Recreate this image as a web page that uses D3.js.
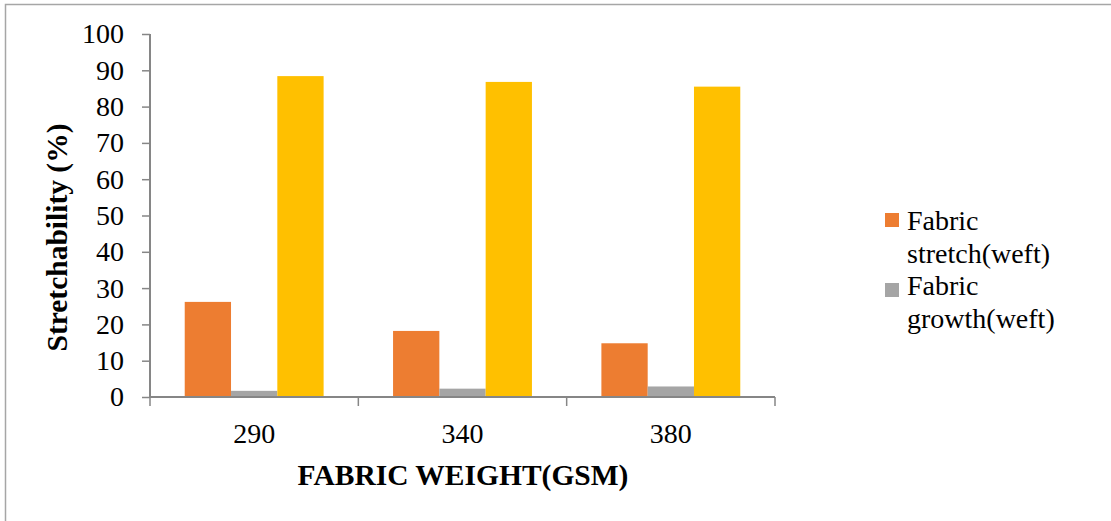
<!DOCTYPE html>
<html>
<head>
<meta charset="utf-8">
<script src="https://cdn.jsdelivr.net/npm/d3@7"></script>
<style>
  body { margin: 0; background: #fff; }
  svg text { font-family: "Liberation Serif", "Times New Roman", serif; fill: #000; }
</style>
</head>
<body>
<svg id="chart"></svg>
<script>
let categories = ["290", "340", "380"];
let seriesNames = ["Fabric stretch(weft)", "Fabric growth(weft)", "Series3"];
let stretchVals = [26.2, 18.2, 14.8];
let growthVals = [1.7, 2.3, 2.9];
let series3Vals = [88.4, 86.8, 85.5];
let yTicks = [0, 10, 20, 30, 40, 50, 60, 70, 80, 90, 100];
let colors = ["#ed7d31", "#a5a5a5", "#ffc000"];
let legendLines = [["Fabric", "stretch(weft)"], ["Fabric", "growth(weft)"]];

let W = 1111, H = 521;
let plotLeft = 150, plotRight = 775, plotTop = 34, plotBottom = 397;
let fs = 28, fsBold = 29.5;

let svg = d3.select('#chart').attr('width', W).attr('height', H);

// outer frame (partly cut off)
svg.append('path')
    .attr('d', `M5.5,${H} V4.5 H${W}`)
    .attr('fill', 'none')
    .attr('stroke', '#a6a6a6')
    .attr('stroke-width', 1.5);

let x = d3.scaleBand().domain(categories).range([plotLeft, plotRight]).paddingInner(0).paddingOuter(0);
let y = d3.scaleLinear().domain([0, 100]).range([plotBottom, plotTop]);

// bars: 3 bars, 75% gap width -> 0.75 bar each side
let barW = x.bandwidth() / (3 + 0.75 * 2);
let allVals = [stretchVals, growthVals, series3Vals];
let inner = d3.scaleBand().domain(d3.range(3)).range([0.75 * barW, 0.75 * barW + 3 * barW]);

allVals.forEach(function(vals, s) {
    svg.selectAll('rect.s' + s)
        .data(vals).enter()
        .append('rect')
        .attr('class', 's' + s)
        .attr('x', (d, i) => x(categories[i]) + inner(s))
        .attr('y', d => y(d))
        .attr('width', inner.bandwidth())
        .attr('height', d => y(0) - y(d))
        .attr('fill', colors[s]);
});

// y axis
let yAxis = svg.append('g')
    .attr('transform', `translate(${plotLeft},0)`)
    .call(d3.axisLeft(y).tickValues(yTicks).tickSize(8).tickPadding(18));
yAxis.attr('font-size', null).attr('font-family', null);
yAxis.selectAll('text').style('font-size', fs + 'px');

// x axis with ticks at category boundaries
let xAxis = svg.append('g')
    .attr('transform', `translate(0,${plotBottom})`)
    .call(d3.axisBottom(x).tickSize(0).tickPadding(26));
xAxis.attr('font-size', null).attr('font-family', null);
xAxis.selectAll('text').style('font-size', fs + 'px');
xAxis.selectAll('.tick').each(function(d) {
    d3.select(this).append('line')
        .attr('class', 'bound')
        .attr('x1', -x.bandwidth() / 2).attr('x2', -x.bandwidth() / 2)
        .attr('y1', 0).attr('y2', 9);
});
xAxis.append('line')
    .attr('class', 'bound')
    .attr('x1', plotRight).attr('x2', plotRight).attr('y1', 0).attr('y2', 9);

svg.selectAll('.domain').attr('stroke', '#868686').attr('stroke-width', 2);
yAxis.selectAll('.tick line').attr('stroke', '#868686').attr('stroke-width', 1.5);
xAxis.selectAll('line.bound').attr('stroke', '#868686').attr('stroke-width', 1.5);
yAxis.select('.domain').attr('d', `M0,${plotTop}V${plotBottom}`);
xAxis.select('.domain').attr('d', `M${plotLeft},0H${plotRight}`);

// axis titles
svg.append('text')
    .attr('transform', `translate(67,${(plotTop + plotBottom) / 2 + 22}) rotate(-90)`)
    .attr('text-anchor', 'middle')
    .style('font-size', fsBold + 'px').style('font-weight', 'bold')
    .text('Stretchability (%)');

svg.append('text')
    .attr('x', 463).attr('y', 485)
    .attr('text-anchor', 'middle')
    .style('font-size', fsBold + 'px').style('font-weight', 'bold')
    .text('FABRIC WEIGHT(GSM)');

// legend (only first two series)
let legend = svg.selectAll('g.legend')
    .data(legendLines).enter()
    .append('g')
    .attr('class', 'legend');
legend.append('rect')
    .attr('x', 885)
    .attr('y', (d, i) => 213 + i * 70)
    .attr('width', 14).attr('height', 14)
    .attr('fill', (d, i) => colors[i]);
legend.append('text')
    .attr('y', (d, i) => 230 + i * 65)
    .style('font-size', fs + 'px')
    .selectAll('tspan')
    .data(d => d).enter()
    .append('tspan')
    .attr('x', 907)
    .attr('dy', (d, j) => j === 0 ? 0 : 32.5)
    .text(d => d);
</script>
</body>
</html>
